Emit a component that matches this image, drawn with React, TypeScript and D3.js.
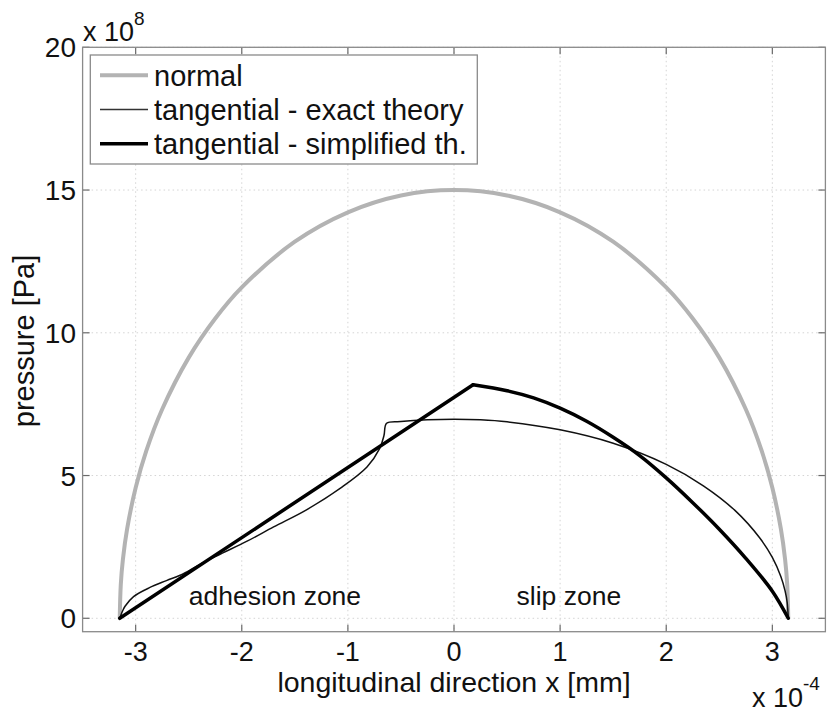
import React, { useEffect, useRef } from "react"
import * as d3 from "d3"

// x in units of 1e-4 (mm axis), pressure in units of 1e8 Pa
const xTicks = [-3, -2, -1, 0, 1, 2, 3]
const yTicks = [0, 5, 10, 15, 20]

const normalPoints: [number, number][] = [
  [-3.15, 0], [-3.14, 1.19], [-3.12, 2.07], [-3.08, 3.14], [-3.0, 4.57],
  [-2.9, 5.86], [-2.75, 7.32], [-2.5, 9.13], [-2.25, 10.5], [-2.0, 11.59],
  [-1.5, 13.19], [-1.0, 14.22], [-0.5, 14.81], [0, 15], [0.5, 14.81],
  [1.0, 14.22], [1.5, 13.19], [2.0, 11.59], [2.25, 10.5], [2.5, 9.13],
  [2.75, 7.32], [2.9, 5.86], [3.0, 4.57], [3.08, 3.14], [3.12, 2.07],
  [3.14, 1.19], [3.15, 0],
]

const exactPoints: [number, number][] = [
  [-3.15, 0], [-3.12, 0.28], [-3.1, 0.42], [-3.02, 0.76], [-2.865, 1.08],
  [-2.71, 1.32], [-2.55, 1.56], [-2.39, 1.9], [-2.2, 2.25], [-1.95, 2.7],
  [-1.7, 3.2], [-1.39, 3.8], [-1.07, 4.56], [-0.82, 5.3], [-0.7, 5.95],
  [-0.66, 6.4], [-0.635, 6.83], [-0.5, 6.89], [-0.25, 6.95], [0, 6.97],
  [0.25, 6.95], [0.5, 6.88], [1.0, 6.6], [1.5, 6.13], [2.0, 5.39],
  [2.35, 4.64], [2.65, 3.77], [2.88, 2.82], [3.0, 2.13], [3.08, 1.46],
  [3.12, 0.96], [3.14, 0.55], [3.15, 0],
]

// adhesion part is a straight line up to the peak, slip part is curved
const simplifiedAdhesion: [number, number][] = [[-3.15, 0], [0.18, 8.18]]
const simplifiedSlip: [number, number][] = [
  [0.18, 8.18], [0.5, 7.97], [0.75, 7.72], [1.0, 7.36],
  [1.25, 6.9], [1.5, 6.34], [1.75, 5.7], [2.0, 4.92], [2.25, 4.05],
  [2.5, 3.12], [2.75, 2.1], [3.0, 0.95], [3.15, 0],
]

const legendLabels = ["normal", "tangential - exact theory", "tangential - simplified th."]
const zoneLabels: [string, number, number][] = [
  ["adhesion zone", -2.5, 0.45],
  ["slip zone", 0.59, 0.45],
]

const FONT = "'Liberation Sans', Arial, Helvetica, sans-serif"

export default function App() {
  const ref = useRef<SVGSVGElement>(null)

  useEffect(() => {
    const svg = d3.select(ref.current)
    svg.selectAll("*").remove()

    const left = 82.6, right = 825.4, top = 47.3, bottom = 631.7
    const x = d3.scaleLinear().domain([-3.5, 3.5]).range([left, right])
    const y = d3.scaleLinear().domain([-0.47, 20]).range([bottom, top])

    svg.append("rect").attr("width", 827).attr("height", 713).attr("fill", "white")

    // grid
    const grid = svg.append("g")
      .attr("stroke", "#d4d4d4")
      .attr("stroke-width", 1)
      .attr("stroke-dasharray", "1.5,3")
    grid.selectAll("line.gx").data(xTicks).enter().append("line")
      .attr("x1", d => x(d)).attr("x2", d => x(d))
      .attr("y1", top).attr("y2", bottom)
    grid.selectAll("line.gy").data(yTicks).enter().append("line")
      .attr("x1", left).attr("x2", right)
      .attr("y1", d => y(d)).attr("y2", d => y(d))

    const line = (curve: d3.CurveFactory) => d3.line<[number, number]>()
      .x(d => x(d[0]))
      .y(d => y(d[1]))
      .curve(curve)

    svg.append("path")
      .attr("d", line(d3.curveCatmullRom.alpha(0.5))(normalPoints))
      .attr("fill", "none")
      .attr("stroke", "#b3b3b3")
      .attr("stroke-width", 4)
    svg.append("path")
      .attr("d", line(d3.curveCatmullRom.alpha(0.5))(exactPoints))
      .attr("fill", "none")
      .attr("stroke", "#111")
      .attr("stroke-width", 1.5)
    const simple = svg.append("g")
      .attr("fill", "none")
      .attr("stroke", "#000")
      .attr("stroke-width", 3.5)
      .attr("stroke-linejoin", "round")
      .attr("stroke-linecap", "round")
    simple.append("path").attr("d", line(d3.curveLinear)(simplifiedAdhesion))
    simple.append("path").attr("d", line(d3.curveCatmullRom.alpha(0.5))(simplifiedSlip))

    // zone labels
    svg.selectAll("text.zone").data(zoneLabels).enter().append("text")
      .attr("x", d => x(d[1]))
      .attr("y", d => y(d[2]))
      .attr("font-family", FONT)
      .attr("font-size", 26.5)
      .attr("fill", "#111")
      .text(d => d[0])

    // axes box and ticks
    const tickLen = 7
    const ticks = svg.append("g").attr("stroke", "#6a6a6a").attr("stroke-width", 1.2)
    xTicks.forEach(t => {
      ticks.append("line").attr("x1", x(t)).attr("x2", x(t)).attr("y1", bottom).attr("y2", bottom - tickLen)
      ticks.append("line").attr("x1", x(t)).attr("x2", x(t)).attr("y1", top).attr("y2", top + tickLen)
    })
    yTicks.forEach(t => {
      ticks.append("line").attr("x1", left).attr("x2", left + tickLen).attr("y1", y(t)).attr("y2", y(t))
      ticks.append("line").attr("x1", right).attr("x2", right - tickLen).attr("y1", y(t)).attr("y2", y(t))
    })
    svg.append("rect")
      .attr("x", left).attr("y", top)
      .attr("width", right - left).attr("height", bottom - top)
      .attr("fill", "none")
      .attr("stroke", "#8a8a8a")
      .attr("stroke-width", 1.3)

    // tick labels
    svg.selectAll("text.xt").data(xTicks).enter().append("text")
      .attr("x", d => x(d))
      .attr("y", 661)
      .attr("text-anchor", "middle")
      .attr("font-family", FONT)
      .attr("font-size", 27)
      .attr("fill", "#111")
      .text(d => String(d))
    svg.selectAll("text.yt").data(yTicks).enter().append("text")
      .attr("x", 76)
      .attr("y", d => y(d) + 10)
      .attr("text-anchor", "end")
      .attr("font-family", FONT)
      .attr("font-size", 28)
      .attr("fill", "#111")
      .text(d => String(d))

    // exponent labels
    const expo = (xb: number, yb: number, sup: string, ys: number) => {
      const t = svg.append("text")
        .attr("x", xb).attr("y", yb)
        .attr("font-family", FONT)
        .attr("font-size", 27)
        .attr("fill", "#111")
      t.append("tspan").text("x 10")
      t.append("tspan").attr("y", ys).attr("font-size", 19).text(sup)
    }
    expo(83, 41, "8", 25)
    expo(752, 707, "-4", 690)

    // axis labels
    svg.append("text")
      .attr("x", (left + right) / 2)
      .attr("y", 692)
      .attr("text-anchor", "middle")
      .attr("font-family", FONT)
      .attr("font-size", 28.5)
      .attr("fill", "#111")
      .text("longitudinal direction x [mm]")
    svg.append("text")
      .attr("transform", "translate(34," + 341 + ") rotate(-90)")
      .attr("text-anchor", "middle")
      .attr("font-family", FONT)
      .attr("font-size", 29)
      .attr("fill", "#111")
      .text("pressure [Pa]")

    // legend
    const legend = svg.append("g")
    legend.append("rect")
      .attr("x", 90.3).attr("y", 55)
      .attr("width", 387).attr("height", 109)
      .attr("fill", "white")
      .attr("stroke", "#8a8a8a")
      .attr("stroke-width", 1.3)
    const styles = [
      { stroke: "#b3b3b3", width: 4 },
      { stroke: "#333", width: 1.5 },
      { stroke: "#000", width: 3.5 },
    ]
    legendLabels.forEach((label, i) => {
      const cy = 75.3 + i * 34.2
      legend.append("line")
        .attr("x1", 100).attr("x2", 148)
        .attr("y1", cy).attr("y2", cy)
        .attr("stroke", styles[i].stroke)
        .attr("stroke-width", styles[i].width)
      legend.append("text")
        .attr("x", 154).attr("y", cy + 10.5)
        .attr("font-family", FONT)
        .attr("font-size", 29)
        .attr("fill", "#111")
        .text(label)
    })
  }, [])

  return (
    <svg
      ref={ref}
      width={827}
      height={713}
      style={{ position: "absolute", left: 0, top: 0, display: "block" }}
    />
  )
}
